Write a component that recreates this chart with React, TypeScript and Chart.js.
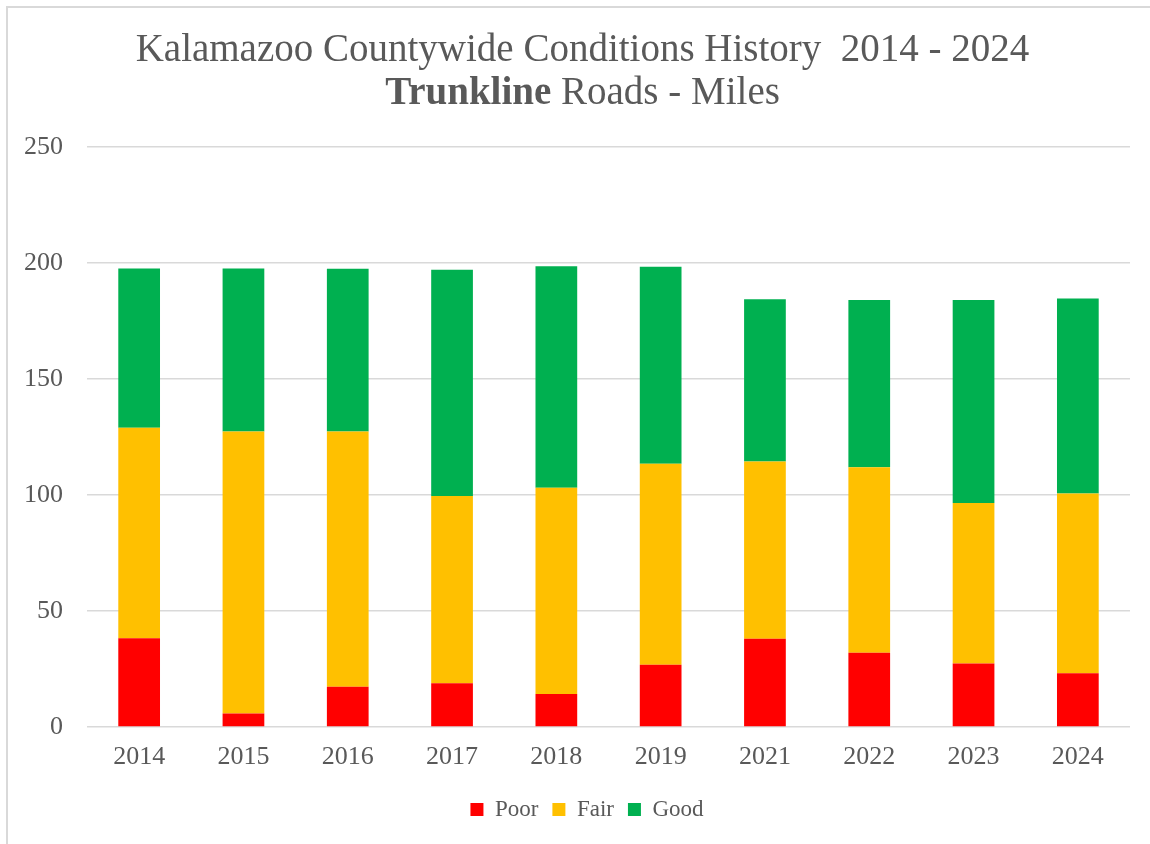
import React, { useEffect, useRef } from "react";
import { Chart, registerables } from "chart.js";

Chart.register(...registerables);

const years = ["2014", "2015", "2016", "2017", "2018", "2019", "2021", "2022", "2023", "2024"];
const poor = [38.3, 5.8, 17.3, 18.9, 14.2, 26.8, 38.0, 32.0, 27.4, 23.2];
const fair = [90.7, 121.6, 110.1, 80.7, 88.9, 86.7, 76.4, 80.0, 69.1, 77.4];
const good = [68.6, 70.2, 70.1, 97.5, 95.5, 84.9, 70.0, 72.1, 87.6, 84.1];
const seriesNames = ["Poor", "Fair", "Good"];
const seriesColors = ["#FF0000", "#FFC000", "#00B050"];
const titleLine1 = "Kalamazoo Countywide Conditions History\u00a0 2014 - 2024";
const titleBold = "Trunkline";
const titleRest = " Roads - Miles";

const FONT = "'Liberation Serif', 'Times New Roman', serif";
const TEXT = "#595959";

const legendShift = {
  id: "legendShift",
  afterUpdate(chart: any) {
    const l = chart.legend;
    if (l) {
      l.left += 22;
      l.right += 22;
    }
  },
};

export default function App() {
  const canvasRef = useRef<HTMLCanvasElement | null>(null);

  useEffect(() => {
    const ctx = canvasRef.current;
    if (!ctx) return;
    const values = [poor, fair, good];
    const chart = new Chart(ctx, {
      type: "bar",
      data: {
        labels: years,
        datasets: seriesNames.map((name, i) => ({
          label: name,
          data: values[i],
          backgroundColor: seriesColors[i],
          borderWidth: 0,
          barPercentage: 0.4,
          categoryPercentage: 1.0,
        })),
      },
      options: {
        animation: false,
        responsive: false,
        maintainAspectRatio: false,
        layout: { padding: { top: 147, left: 0, right: 20, bottom: 13 } },
        plugins: {
          title: { display: false },
          tooltip: { enabled: false },
          legend: {
            position: "bottom",
            labels: {
              boxWidth: 13,
              boxHeight: 13,
              padding: 14,
              color: TEXT,
              font: { family: FONT, size: 23 },
            },
          },
        },
        scales: {
          x: {
            stacked: true,
            grid: { display: false, drawTicks: false },
            border: { display: false },
            ticks: { color: TEXT, padding: 15, font: { family: FONT, size: 26 } },
            afterFit: (s: any) => {
              s.height = 57;
            },
          },
          y: {
            stacked: true,
            min: 0,
            max: 250,
            ticks: { stepSize: 50, color: TEXT, padding: 24, font: { family: FONT, size: 26 } },
            grid: { color: "#d9d9d9", lineWidth: 1.5, drawTicks: false },
            border: { display: false },
            afterFit: (s: any) => {
              s.width = 87;
            },
          },
        },
      },
      plugins: [legendShift],
    });
    return () => chart.destroy();
  }, []);

  const titleStyle: React.CSSProperties = {
    position: "absolute",
    left: 6,
    width: 1153,
    textAlign: "center",
    fontFamily: FONT,
    fontSize: 39,
    lineHeight: "39px",
    color: TEXT,
    whiteSpace: "nowrap",
  };

  return (
    <div style={{ position: "fixed", left: 0, top: 0, width: 1150, height: 844, overflow: "hidden", background: "#fff" }}>
      <div
        style={{
          position: "absolute",
          left: 6,
          top: 6,
          width: 1160,
          height: 860,
          border: "2px solid #d9d9d9",
          boxSizing: "border-box",
        }}
      />
      <canvas ref={canvasRef} width={1150} height={844} style={{ position: "absolute", left: 0, top: 0, width: 1150, height: 844 }} />
      <div style={{ ...titleStyle, top: 28 }}>{titleLine1}</div>
      <div style={{ ...titleStyle, top: 71 }}>
        <b>{titleBold}</b>
        {titleRest}
      </div>
    </div>
  );
}
